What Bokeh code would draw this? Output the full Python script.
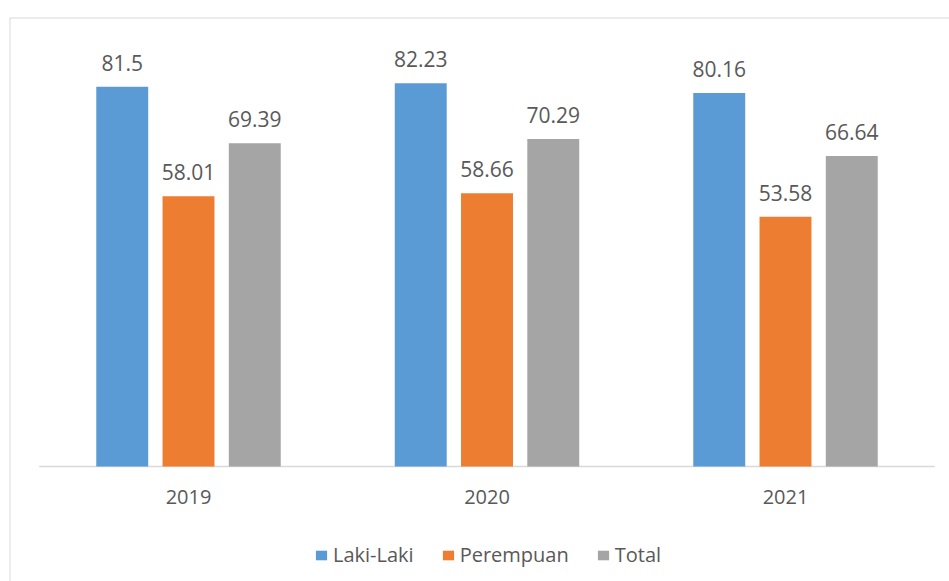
from bokeh.plotting import figure
from bokeh.models import ColumnDataSource, LabelSet, Legend, LegendItem, FixedTicker, Range1d, Span
from bokeh.core.properties import value
from bokeh.transform import dodge
from bokeh.embed import file_html
from bokeh.resources import INLINE

years = ["2019", "2020", "2021"]
laki = [81.5, 82.23, 80.16]
perempuan = [58.01, 58.66, 53.58]
total = [69.39, 70.29, 66.64]
series_names = ["Laki-Laki", "Perempuan", "Total"]
series_values = [laki, perempuan, total]
colors = ["#5B9BD5", "#ED7D31", "#A5A5A5"]
offsets = [-0.222, 0.0, 0.222]

FONT = "Open Sans"
TEXT_COLOR = "#595959"
BORDER = "#d9d9d9"

idx = list(range(len(years)))

xr = Range1d(-0.5997, 2.5494)
yr = Range1d(-24.68, 96.35)
p = figure(width=949, height=581, output_backend="svg", toolbar_location=None,
           x_range=xr, y_range=yr,
           y_axis_location=None, min_border_left=9, min_border_top=17,
           min_border_right=0, min_border_bottom=0)
p.xgrid.grid_line_color = None
p.ygrid.grid_line_color = None
p.outline_line_color = None
p.background_fill_color = "white"
p.border_fill_color = "white"

# chart-area border: left and top edges only (the rest is cropped in the reference)
p.add_layout(Span(location=xr.start, dimension="height", line_color=BORDER, line_width=2))
p.add_layout(Span(location=yr.end, dimension="width", line_color=BORDER, line_width=2))

# baseline across the category band
p.segment(x0=[-0.5], x1=[len(years) - 0.5], y0=[0], y1=[0], line_color=BORDER, line_width=1.5)

items = []
for name, vals, col, off in zip(series_names, series_values, colors, offsets):
    src = ColumnDataSource(dict(idx=idx, val=vals, lab=[str(v) for v in vals]))
    r = p.vbar(x=dodge("idx", off), top="val", width=0.174, source=src,
               fill_color=col, line_color=None)
    items.append(LegendItem(label=name, renderers=[r]))
    labels = LabelSet(x=dodge("idx", off), y="val", text="lab", source=src,
                      text_align="center", text_baseline="alphabetic", y_offset=16,
                      text_font=value(FONT), text_font_size=value("21px"),
                      text_color=value(TEXT_COLOR))
    p.add_layout(labels)

xa = p.xaxis[0]
xa.fixed_location = 0
xa.ticker = FixedTicker(ticks=idx)
xa.major_label_overrides = {i: y for i, y in zip(idx, years)}
xa.axis_line_color = None
xa.major_tick_line_color = None
xa.minor_tick_line_color = None
xa.major_label_standoff = 18
xa.major_label_text_font = FONT
xa.major_label_text_font_size = "20px"
xa.major_label_text_color = TEXT_COLOR

legend = Legend(items=items, orientation="horizontal", location=(305, 13),
                glyph_width=14, glyph_height=12, label_standoff=5, spacing=27,
                padding=0, margin=0, border_line_color=None, background_fill_alpha=0,
                label_text_font=FONT, label_text_font_size="20px", label_text_color=TEXT_COLOR)
p.add_layout(legend, "center")

open("out.html", "w").write(file_html(p, INLINE))
